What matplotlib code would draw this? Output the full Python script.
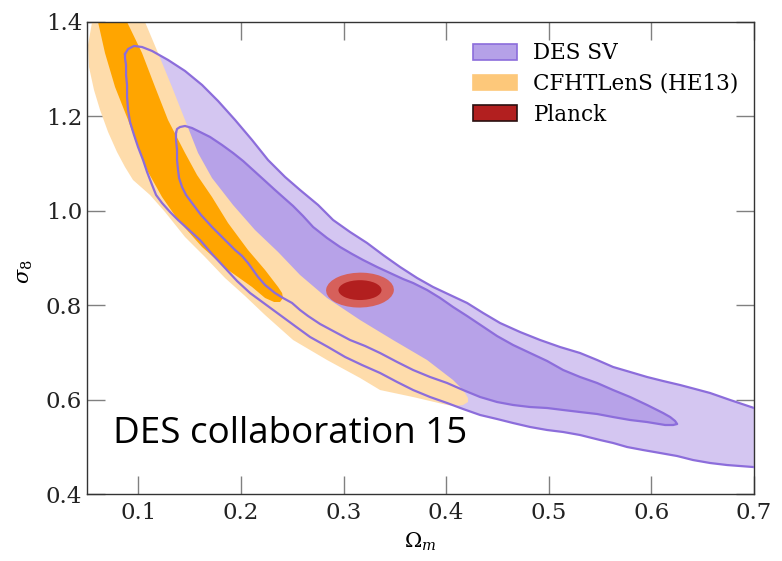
import matplotlib
matplotlib.use("Agg")
import matplotlib.pyplot as plt
from matplotlib.patches import Ellipse, Patch

plt.rcParams.update({"font.family": "DejaVu Serif", "mathtext.fontset": "dejavuserif"})

# DES SV, outer (2 sigma) contour: upper edge left->right, then lower edge back
des_out_x = [0.0870, 0.0900, 0.0958, 0.1036, 0.1134, 0.1290, 0.1455, 0.1621, 0.1777,
             0.1943, 0.2108, 0.2264, 0.2430, 0.2576, 0.2752, 0.2898, 0.3063, 0.3229,
             0.3385, 0.3551, 0.3717, 0.3872, 0.4038, 0.4204, 0.4360, 0.4525, 0.4720,
             0.4915, 0.5110, 0.5305, 0.5471, 0.5627, 0.5793, 0.5958, 0.6114, 0.6280,
             0.6426, 0.6572, 0.6767, 0.7001, 0.7206,
             0.7206, 0.6991, 0.6738, 0.6572, 0.6406, 0.6251, 0.6085, 0.5919, 0.5763,
             0.5627, 0.5500, 0.5305, 0.5140, 0.4984, 0.4818, 0.4652, 0.4496, 0.4331,
             0.4165, 0.4009, 0.3843, 0.3678, 0.3522, 0.3356, 0.3180, 0.3015, 0.2849,
             0.2674, 0.2527, 0.2381, 0.2235, 0.2089, 0.1962, 0.1845, 0.1718, 0.1601,
             0.1484, 0.1387, 0.1309, 0.1231, 0.1173, 0.1134, 0.1085, 0.1046, 0.0997,
             0.0958, 0.0919, 0.0900, 0.0890, 0.0890, 0.0880, 0.0880, 0.0870]
des_out_y = [1.3322, 1.3428, 1.3492, 1.3470, 1.3386, 1.3195, 1.2962, 1.2666, 1.2326,
             1.1924, 1.1500, 1.1076, 1.0716, 1.0441, 1.0123, 0.9805, 0.9551, 0.9318,
             0.9064, 0.8809, 0.8576, 0.8386, 0.8216, 0.8047, 0.7835, 0.7623, 0.7432,
             0.7263, 0.7114, 0.6987, 0.6839, 0.6691, 0.6585, 0.6479, 0.6394, 0.6309,
             0.6225, 0.6140, 0.5992, 0.5822, 0.5716,
             0.4508, 0.4572, 0.4614, 0.4657, 0.4720, 0.4805, 0.4869, 0.4932, 0.4996,
             0.5081, 0.5144, 0.5250, 0.5314, 0.5356, 0.5420, 0.5504, 0.5589, 0.5674,
             0.5801, 0.5928, 0.6055, 0.6203, 0.6373, 0.6564, 0.6733, 0.6903, 0.7114,
             0.7326, 0.7559, 0.7792, 0.8025, 0.8258, 0.8513, 0.8788, 0.9085, 0.9381,
             0.9614, 0.9805, 0.9975, 1.0165, 1.0335, 1.0547, 1.0822, 1.1076, 1.1352,
             1.1606, 1.1881, 1.2136, 1.2411, 1.2665, 1.2877, 1.3089, 1.3237]

# DES SV, inner (1 sigma) contour
des_in_x = [0.1367, 0.1377, 0.1406, 0.1455, 0.1523, 0.1601, 0.1699, 0.1816, 0.1923,
            0.2021, 0.2118, 0.2225, 0.2332, 0.2420, 0.2508, 0.2605, 0.2703, 0.2839,
            0.2966, 0.3083, 0.3190, 0.3327, 0.3453, 0.3580, 0.3678, 0.3814, 0.3941,
            0.4067, 0.4204, 0.4350, 0.4496, 0.4652, 0.4818, 0.4984, 0.5140, 0.5305,
            0.5471, 0.5627, 0.5793, 0.5958, 0.6114, 0.6183, 0.6231, 0.6251, 0.6212,
            0.6134,
            0.5958, 0.5793, 0.5627, 0.5471, 0.5305, 0.5140, 0.4984, 0.4818, 0.4652,
            0.4496, 0.4331, 0.4165, 0.4009, 0.3843, 0.3678, 0.3522, 0.3356, 0.3210,
            0.3063, 0.2917, 0.2771, 0.2654, 0.2576, 0.2498, 0.2410, 0.2332, 0.2235,
            0.2167, 0.2118, 0.2069, 0.2011, 0.1943, 0.1835, 0.1718, 0.1611, 0.1523,
            0.1465, 0.1426, 0.1397, 0.1387, 0.1377, 0.1377, 0.1367]
des_in_y = [1.1648, 1.1733, 1.1775, 1.1797, 1.1754, 1.1670, 1.1564, 1.1394, 1.1225,
            1.1055, 1.0864, 1.0653, 1.0441, 1.0271, 1.0102, 0.9890, 0.9657, 0.9424,
            0.9233, 0.9085, 0.8958, 0.8809, 0.8682, 0.8555, 0.8470, 0.8322, 0.8153,
            0.7962, 0.7771, 0.7559, 0.7347, 0.7157, 0.6987, 0.6818, 0.6627, 0.6479,
            0.6352, 0.6203, 0.6055, 0.5886, 0.5716, 0.5631, 0.5547, 0.5483, 0.5462,
            0.5462,
            0.5525, 0.5568, 0.5631, 0.5695, 0.5737, 0.5780, 0.5822, 0.5843, 0.5886,
            0.5949, 0.6055, 0.6203, 0.6352, 0.6479, 0.6627, 0.6797, 0.6987, 0.7136,
            0.7263, 0.7432, 0.7602, 0.7771, 0.7898, 0.8047, 0.8153, 0.8258, 0.8428,
            0.8597, 0.8746, 0.8894, 0.9042, 0.9169, 0.9403, 0.9657, 0.9911, 1.0165,
            1.0335, 1.0504, 1.0695, 1.0864, 1.1076, 1.1288, 1.1500]

# CFHTLenS (HE13), outer contour
cfht_out_x = [0.0578, 0.1114, 0.1065, 0.1192, 0.1328, 0.1455, 0.1582, 0.1718, 0.1923,
              0.2137, 0.2362, 0.2576, 0.2839, 0.3161, 0.3482, 0.3814, 0.4067, 0.4135,
              0.4184, 0.4213, 0.4213, 0.4165, 0.4087,
              0.4009, 0.3677, 0.3356, 0.3161, 0.2839, 0.2508, 0.2235, 0.2040, 0.1845,
              0.1650, 0.1455, 0.1260, 0.1114, 0.0948, 0.0870, 0.0792, 0.0705, 0.0627,
              0.0568, 0.0519, 0.0510, 0.0549]
cfht_out_y = [1.4254, 1.4254, 1.4000, 1.3343, 1.2623, 1.1924, 1.1225, 1.0695, 1.0123,
              0.9593, 0.9127, 0.8640, 0.8153, 0.7686, 0.7263, 0.6839, 0.6415, 0.6267,
              0.6140, 0.6034, 0.5949, 0.5886, 0.5864,
              0.5886, 0.6055, 0.6203, 0.6458, 0.6839, 0.7263, 0.7792, 0.8195, 0.8576,
              0.9021, 0.9445, 0.9975, 1.0335, 1.0653, 1.0928, 1.1246, 1.1670, 1.2136,
              1.2559, 1.3047, 1.3513, 1.4000]

# CFHTLenS (HE13), inner contour
cfht_in_x = [0.0588, 0.0900, 0.0890, 0.1036, 0.1163, 0.1289, 0.1455, 0.1572, 0.1718,
             0.1874, 0.2069, 0.2235, 0.2362, 0.2401, 0.2410, 0.2381, 0.2323,
             0.2235, 0.2108, 0.1874, 0.1621, 0.1387, 0.1231, 0.1095, 0.1017, 0.0900,
             0.0773, 0.0675, 0.0607]
cfht_in_y = [1.4254, 1.4254, 1.4000, 1.3343, 1.2623, 1.1924, 1.1225, 1.0758, 1.0292,
             0.9742, 0.9169, 0.8746, 0.8386, 0.8258, 0.8153, 0.8068, 0.8068,
             0.8153, 0.8386, 0.8746, 0.9233, 0.9805, 1.0292, 1.0822, 1.1225, 1.1924,
             1.2623, 1.3343, 1.4000]

# Planck: centre and (width, height) of the two confidence ellipses
planck_centre = (0.316, 0.832)
planck_outer = (0.066, 0.074)
planck_inner = (0.042, 0.042)

labels = ["DES SV", "CFHTLenS (HE13)", "Planck"]
x_ticks = [0.1, 0.2, 0.3, 0.4, 0.5, 0.6, 0.7]
y_ticks = [0.4, 0.6, 0.8, 1.0, 1.2, 1.4]

PURPLE_L, PURPLE_D, PURPLE_LINE = "#d4c6f1", "#b7a2e8", "#8c6ddb"
ORANGE_L, ORANGE_D = "#fedcab", "#ffa500"
RED_L, RED_D = "#d6605b", "#b21f1f"

fig = plt.figure(figsize=(7.82, 5.61), dpi=100)
ax = fig.add_axes([0.1113, 0.1194, 0.8529, 0.8414])

ax.fill(des_out_x, des_out_y, color=PURPLE_L, lw=0, zorder=1)
ax.fill(des_in_x, des_in_y, color=PURPLE_D, lw=0, zorder=1.1)
ax.fill(cfht_out_x, cfht_out_y, color=ORANGE_L, lw=0, zorder=2)
ax.fill(cfht_in_x, cfht_in_y, color=ORANGE_D, lw=0, zorder=2.1)
for xs, ys in ((des_out_x, des_out_y), (des_in_x, des_in_y)):
    ax.plot(xs + xs[:1], ys + ys[:1], color=PURPLE_LINE, lw=1.6, zorder=3,
            solid_joinstyle="round")
ax.add_patch(Ellipse(planck_centre, *planck_outer, angle=-5, color=RED_L, lw=0, zorder=4))
ax.add_patch(Ellipse(planck_centre, *planck_inner, color=RED_D, lw=0, zorder=4.1))

ax.set_xlim(0.05, 0.7)
ax.set_ylim(0.4, 1.4)
ax.set_xticks(x_ticks)
ax.set_yticks(y_ticks)
ax.set_xticklabels([f"{t:.1f}" for t in x_ticks])
ax.set_yticklabels([f"{t:.1f}" for t in y_ticks])
ax.tick_params(direction="in", length=13, width=1, color="0.5", top=True, right=True,
               labelsize=16.5, labelcolor="#222222")
ax.tick_params(axis="x", pad=5.5)
for s in ax.spines.values():
    s.set_color("0.2")
    s.set_linewidth(1.0)
ax.set_xlabel(r"$\Omega_m$", fontsize=15, labelpad=5)
ax.set_ylabel(r"$\sigma_8$", fontsize=15)
ax.yaxis.set_label_coords(-0.078, 0.47)

handles = [Patch(facecolor="#b5a1e8", edgecolor=PURPLE_LINE, lw=1.2),
           Patch(facecolor="#fdc87a", edgecolor="#fdc87a", lw=1.2),
           Patch(facecolor=RED_D, edgecolor="#2a1010", lw=1.2)]
ax.legend(handles, labels, loc="upper left", bbox_to_anchor=(0.579, 0.957),
          frameon=False, fontsize=15.5, borderpad=0, handlelength=2.05,
          handleheight=0.75, handletextpad=0.75, labelspacing=0.4,
          borderaxespad=0)

ax.text(0.039, 0.108, "DES collaboration 15", transform=ax.transAxes,
        family="Open Sans", fontsize=26.5, color="black", va="baseline", zorder=5)

fig.savefig("out.png", dpi=100)
